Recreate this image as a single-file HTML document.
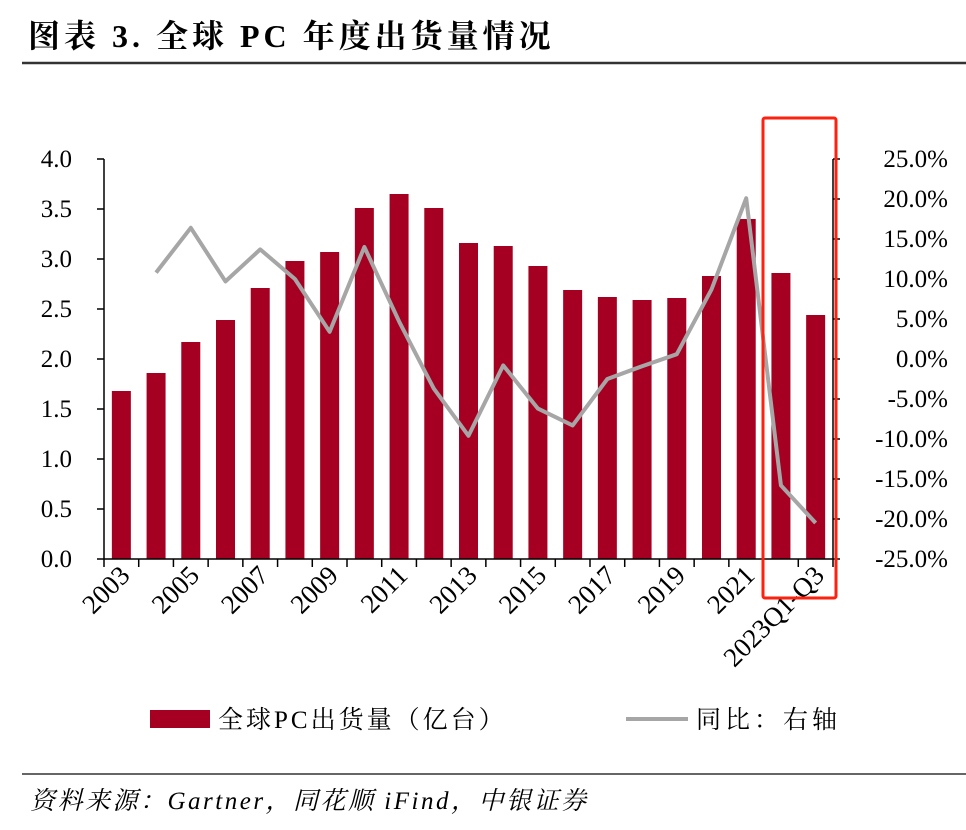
<!DOCTYPE html>
<html><head><meta charset="utf-8"><style>
body{margin:0;background:#fff;}
svg text{font-family:"Liberation Serif","Noto Serif CJK SC",serif;}
</style></head><body>
<svg width="966" height="825" viewBox="0 0 966 825" xmlns="http://www.w3.org/2000/svg">
<text x="28" y="47" font-size="32" font-weight="bold" letter-spacing="4" fill="#000">图表 3. 全球 PC 年度出货量情况</text>
<line x1="22" y1="63" x2="966" y2="63" stroke="#333" stroke-width="2.5"/>
<g id="plot"></g>
<rect x="763" y="118" width="73" height="480" fill="none" stroke="#ff2010" stroke-width="3" rx="2"/>
<rect x="150" y="710" width="60" height="18" fill="#a50021"/>
<text x="218" y="728" font-size="25" letter-spacing="3" fill="#000">全球PC出货量（亿台）</text>
<line x1="626" y1="719" x2="688" y2="719" stroke="#a6a6a6" stroke-width="4"/>
<text x="696" y="728" font-size="25" letter-spacing="4" fill="#000">同比：右轴</text>
<line x1="22" y1="774" x2="966" y2="774" stroke="#333" stroke-width="1.5"/>
<text x="30" y="809" font-size="25" font-style="italic" letter-spacing="2.5" fill="#000">资料来源：Gartner，同花顺 iFind，中银证券</text>
</svg>
<script>
const categories=["2003","2004","2005","2006","2007","2008","2009","2010","2011","2012","2013","2014","2015","2016","2017","2018","2019","2020","2021","2022","2023Q1-Q3"];
const shipments=[1.68,1.86,2.17,2.39,2.71,2.98,3.07,3.51,3.65,3.51,3.16,3.13,2.93,2.69,2.62,2.59,2.61,2.83,3.40,2.86,2.44];
const yoy=[null,10.8,16.4,9.7,13.7,10.0,3.4,14.0,4.7,-3.7,-9.6,-0.8,-6.2,-8.3,-2.5,-0.9,0.6,8.7,20.1,-15.8,-20.5];
const leftTicks=[0,0.5,1,1.5,2,2.5,3,3.5,4];
const rightTicks=[-25,-20,-15,-10,-5,0,5,10,15,20,25];
const NS="http://www.w3.org/2000/svg";
const g=document.getElementById('plot');
const X0=104,X1=833,YT=159,YB=559;
const step=(X1-X0)/categories.length;
const xc=i=>X0+step*(i+0.5);
const yL=v=>YB-(v/4)*(YB-YT);
const yR=v=>YB-((v+25)/50)*(YB-YT);
function mk(t,a){const e=document.createElementNS(NS,t);for(const k in a)e.setAttribute(k,a[k]);g.appendChild(e);return e;}
shipments.forEach((v,i)=>{
 const r=mk('rect',{x:xc(i)-9.5,y:yL(v),width:19,height:YB-yL(v),fill:'#a50021'});
 
 
});
let d='';yoy.forEach((v,i)=>{if(v===null)return;d+=(d?'L':'M')+xc(i)+','+yR(v);});
const p=mk('path',{d:d,fill:'none',stroke:'#a6a6a6','stroke-width':4,'stroke-linejoin':'round'});


const la=mk('line',{x1:X0,y1:YT,x2:X0,y2:YB,stroke:'#000','stroke-width':1.5});


const ra=mk('line',{x1:X1,y1:YT,x2:X1,y2:YB,stroke:'#000','stroke-width':1.5});


const xa=mk('line',{x1:X0,y1:YB,x2:X1,y2:YB,stroke:'#000','stroke-width':1.5});


leftTicks.forEach(v=>{
 mk('line',{x1:X0-7,y1:yL(v),x2:X0,y2:yL(v),stroke:'#000','stroke-width':1.5});
 const t=mk('text',{x:72,y:yL(v)+8,'font-size':25,'text-anchor':'end',fill:'#000'});
 t.textContent=v.toFixed(1);
 
 
});
rightTicks.forEach(v=>{
 mk('line',{x1:X1,y1:yR(v),x2:X1+7,y2:yR(v),stroke:'#000','stroke-width':1.5});
 const t=mk('text',{x:948,y:yR(v)+8,'font-size':25,'text-anchor':'end',fill:'#000'});
 t.textContent=v.toFixed(1)+'%';
 
 
});
for(let i=0;i<=categories.length;i++){mk('line',{x1:X0+step*i,y1:YB,x2:X0+step*i,y2:YB+8,stroke:'#000','stroke-width':1.5});}
categories.forEach((c,i)=>{
 if(i%2!==0)return;
 const x=xc(i)+10,y=YB+18;
 const t=mk('text',{x:x,y:y,'font-size':27,'text-anchor':'end',fill:'#000',transform:'rotate(-45 '+x+' '+y+')'});
 t.textContent=c;
 
 
});
</script>
</body></html>
